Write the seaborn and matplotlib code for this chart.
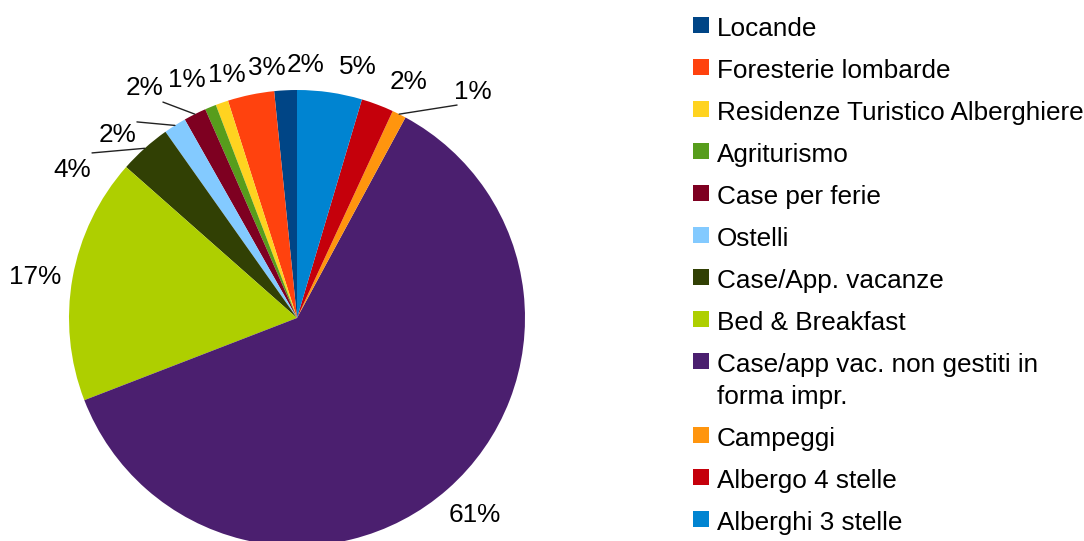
import matplotlib
matplotlib.use("Agg")
import matplotlib.pyplot as plt
from matplotlib.patches import Rectangle
import seaborn as sns
import numpy as np

# ---- data ----
categories = ["Locande", "Foresterie lombarde", "Residenze Turistico Alberghiere",
              "Agriturismo", "Case per ferie", "Ostelli", "Case/App. vacanze",
              "Bed & Breakfast", "Case/app vac. non gestiti in\nforma impr.",
              "Campeggi", "Albergo 4 stelle", "Alberghi 3 stelle"]
shares = [1.6, 3.3, 0.9, 0.8, 1.6, 1.6, 3.7, 17.4, 61.3, 1.0, 2.3, 4.6]
pct_labels = ["2%", "3%", "1%", "1%", "2%", "2%", "4%", "17%", "61%", "1%", "2%", "5%"]

# ---- styles ----
colors = ["#004586", "#ff420e", "#ffd320", "#579d1c", "#7e0021", "#83caff",
          "#314004", "#aecf00", "#4b1f6f", "#ff950e", "#c5000b", "#0084d1"]
# label centres in pie-radius units
label_pos = [(0.039, 1.110), (-0.132, 1.096), (-0.307, 1.066), (-0.482, 1.044),
             (-0.667, 1.009), (-0.789, 0.803), (-0.987, 0.649), (-1.149, 0.180),
             (0.781, -0.864), (0.772, 0.991), (0.487, 1.035), (0.268, 1.101)]
# leader line end points (None = no leader)
leader_end = [None, None, None, None, (-0.588, 0.947), (-0.702, 0.860),
              (-0.899, 0.724), None, None, (0.702, 0.934), None, None]

sns.set_theme(style="white")
plt.rcParams["font.family"] = ["Liberation Sans", "DejaVu Sans"]
plt.rcParams["text.color"] = "black"
palette = sns.color_palette(colors)

W, H = 1084, 541
fig = plt.figure(figsize=(W / 100, H / 100), dpi=100)
fig.patch.set_facecolor("white")

cx, cy, R = 297, 318, 228
ax = fig.add_axes([(cx - R) / W, (H - cy - R) / H, 2 * R / W, 2 * R / H])
wedges, _ = ax.pie(shares, colors=palette, startangle=90, counterclock=True,
                   radius=1.0, wedgeprops=dict(linewidth=0))
ax.set_xlim(-1, 1)
ax.set_ylim(-1, 1)
ax.set_aspect("auto")
ax.axis("off")

fs = 18.8
for i, w in enumerate(wedges):
    x, y = label_pos[i]
    ax.text(x, y, pct_labels[i], ha="center", va="center", fontsize=fs,
            color="black", clip_on=False)
    if leader_end[i] is not None:
        mid = np.deg2rad((w.theta1 + w.theta2) / 2)
        sx, sy = np.cos(mid), np.sin(mid)
        ex, ey = leader_end[i]
        ax.plot([sx, ex], [sy, ey], color="#222222", lw=1.0, clip_on=False)

# ---- legend (manual layout, pixel units from top) ----
row_step, line_step = 42, 32
base = 36
mx, msize, tx = 693, 16, 717
extra = 0
for i, (lab, c) in enumerate(zip(categories, colors)):
    b = base + row_step * i + line_step * extra
    fig.add_artist(Rectangle((mx / W, (H - (b - 3)) / H), msize / W, msize / H,
                             transform=fig.transFigure, facecolor=c,
                             edgecolor="none"))
    for j, line in enumerate(lab.split("\n")):
        fig.text(tx / W, (H - (b + line_step * j)) / H, line, ha="left",
                 va="baseline", fontsize=fs, color="black")
    extra += lab.count("\n")

fig.savefig("out.png", dpi=100, facecolor="white")
